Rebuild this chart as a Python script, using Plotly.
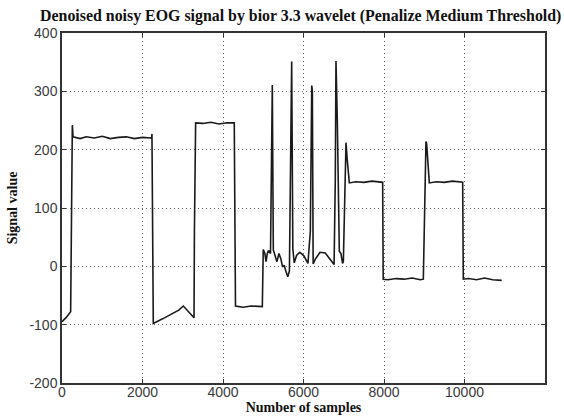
import plotly.graph_objects as go

# Sample indices and signal values
samples = [0, 100, 215, 240, 257, 275, 450, 600, 800, 1000, 1200, 1400, 1600, 1800, 2000, 2200, 2228, 2235, 2245, 2268,
           2500, 2700, 2900, 3015, 3280, 3290, 3320, 3500, 3700, 3900, 4100, 4280, 4290, 4310, 4500, 4700, 4977,
           4985, 5000, 5040, 5070, 5100, 5130, 5180, 5200, 5225, 5250, 5290, 5340, 5390, 5440, 5480, 5520, 5560, 5610, 5650,
           5680, 5706, 5735, 5770, 5830, 5910, 6010, 6110, 6170, 6205, 6220, 6240, 6290, 6410, 6540, 6660, 6760,
           6790, 6807, 6840, 6890, 6930, 6970, 6990, 7020, 7056, 7090, 7139, 7300, 7500, 7700, 7900, 7967,
           7980, 8100, 8300, 8500, 8700, 8900, 8977, 9010, 9043, 9060, 9090, 9126, 9300, 9500, 9700, 9955,
           9970, 10100, 10300, 10500, 10700, 10924]
values = [-95, -88, -78, 150, 242, 222, 219, 222, 220, 223, 219, 221, 222, 219, 221, 220, 221, 227, 70, -98,
          -90, -82, -75, -68, -88, 60, 246, 245, 247, 244, 246, 246, 170, -68, -70, -68, -69,
          10, 29, 22, 8, 22, 27, 22, 150, 311, 28, 19, 8, 22, 12, -1, 2, -8, -18, -8,
          150, 351, 30, 6, 19, 24, 18, 5, 60, 310, 300, 4, 12, 24, 23, 12, 3,
          150, 352, 250, 26, 22, 5, 8, 100, 212, 180, 143, 145, 144, 146, 145, 144,
          -22, -23, -21, -22, -20, -23, -22, 100, 214, 210, 170, 143, 145, 144, 146, 144,
          -22, -21, -23, -20, -23, -24]

x_ticks = [0, 2000, 4000, 6000, 8000, 10000, 12000]
y_ticks = [-200, -100, 0, 100, 200, 300, 400]

fig = go.Figure()
fig.add_trace(go.Scatter(x=samples, y=values, mode="lines",
                         line=dict(color="#1a1a1a", width=1.6), showlegend=False))

axis_common = dict(
    showline=True, linecolor="#333333", linewidth=1.5, mirror="ticks",
    ticks="inside", ticklen=4, tickcolor="#333333",
    showgrid=True, gridcolor="#666666", gridwidth=1, griddash="1px,3px",
    zeroline=False, automargin=False,
    tickfont=dict(family="Liberation Sans, Arial, sans-serif", size=14, color="#3a3a3a"),
)

serif = "Liberation Serif, Times New Roman, serif"
fig.update_xaxes(range=[0, 12000], tickvals=x_ticks, ticktext=[str(v) for v in x_ticks],
                 ticklabelstandoff=-5,
                 title=dict(text="<b>Number of samples</b>", standoff=2,
                            font=dict(family=serif, size=14, color="#111")),
                 **axis_common)
fig.update_yaxes(range=[-200, 400], tickvals=y_ticks, ticktext=[str(v) for v in y_ticks],
                 title=dict(text="<b>Signal value</b>", standoff=9,
                            font=dict(family=serif, size=14, color="#111")),
                 **axis_common)

fig.update_layout(
    width=564, height=419,
    margin=dict(l=62, r=19, t=33, b=36),
    paper_bgcolor="white", plot_bgcolor="white",
    title=dict(text="<b>Denoised noisy EOG signal by bior 3.3 wavelet (Penalize Medium Threshold)</b>",
               x=0.071, xanchor="left", y=0.962, yanchor="middle",
               font=dict(family=serif, size=15.9, color="#111")),
)

fig.write_html("out.html")
